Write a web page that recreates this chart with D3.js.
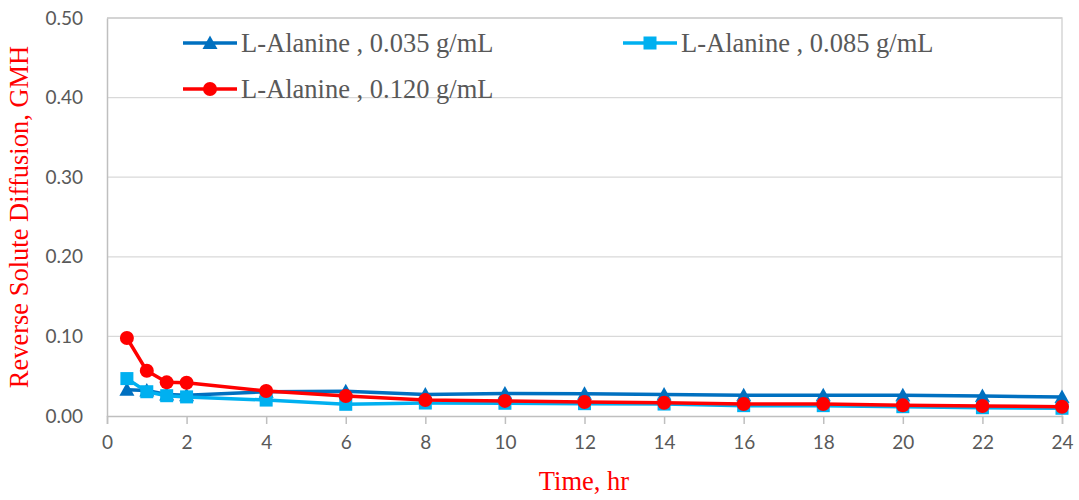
<!DOCTYPE html>
<html>
<head>
<meta charset="utf-8">
<script src="https://cdn.jsdelivr.net/npm/d3@7"></script>
<style>
  html, body { margin: 0; padding: 0; background: #fff; }
  svg { display: block; }
</style>
</head>
<body>
<svg id="chart" width="1079" height="500"></svg>
<script>
// Sampling times (hr)
const times = [0.5, 1, 1.5, 2, 4, 6, 8, 10, 12, 14, 16, 18, 20, 22, 24];

// Reverse solute diffusion (GMH) for each draw concentration
const ala035 = [0.033, 0.032, 0.027, 0.026, 0.0305, 0.031, 0.027, 0.0284, 0.028, 0.027, 0.026, 0.026, 0.026, 0.025, 0.024];
const ala085 = [0.047, 0.0305, 0.0255, 0.024, 0.020, 0.0147, 0.0163, 0.016, 0.0155, 0.015, 0.013, 0.013, 0.0117, 0.0104, 0.0097];
const ala120 = [0.098, 0.0568, 0.0423, 0.0418, 0.0314, 0.025, 0.020, 0.019, 0.0176, 0.0167, 0.015, 0.015, 0.0134, 0.0125, 0.0117];

const seriesNames = ["L-Alanine , 0.035 g/mL", "L-Alanine , 0.085 g/mL", "L-Alanine , 0.120 g/mL"];
const xTicks = [0, 2, 4, 6, 8, 10, 12, 14, 16, 18, 20, 22, 24];
const yTicks = [0, 0.1, 0.2, 0.3, 0.4, 0.5];

const series = [
  { name: seriesNames[0], values: ala035, color: "#0070C0", marker: "triangle" },
  { name: seriesNames[1], values: ala085, color: "#00B0F0", marker: "square" },
  { name: seriesNames[2], values: ala120, color: "#FF0000", marker: "circle" }
];

const svg = d3.select("#chart");
const margin = { left: 107, right: 1079 - 1062, top: 18, bottom: 500 - 416 };
const W = 1079, H = 500;

const x = d3.scaleLinear().domain([0, 24]).range([margin.left, W - margin.right]);
const y = d3.scaleLinear().domain([0, 0.5]).range([H - margin.bottom, margin.top]);

const textGray = "#595959";
const tickFont = "Lato, 'Open Sans', sans-serif";
const serif = "'Liberation Serif', 'Times New Roman', serif";

// Horizontal gridlines
svg.append("g")
  .selectAll("line")
  .data(yTicks.slice(1))
  .join("line")
  .attr("x1", x(0)).attr("x2", x(24))
  .attr("y1", d => y(d)).attr("y2", d => y(d))
  .attr("stroke", "#D9D9D9").attr("stroke-width", 1.3);

// Plot border (top and right)
svg.append("path")
  .attr("d", `M${x(0)},${y(0.5)}H${x(24)}V${y(0)}`)
  .attr("fill", "none").attr("stroke", "#D0D0D0").attr("stroke-width", 1.3);

// X axis
const xAxis = svg.append("g")
  .attr("transform", `translate(0,${y(0)})`)
  .call(d3.axisBottom(x).tickValues(xTicks).tickSize(8).tickPadding(12).tickFormat(d3.format("d")));
xAxis.select(".domain").attr("stroke", "#BFBFBF").attr("stroke-width", 1.5);
xAxis.selectAll(".tick line").attr("stroke", "#BFBFBF").attr("stroke-width", 1.5);
xAxis.selectAll(".tick text").attr("fill", textGray).attr("font-size", 19).attr("font-family", tickFont);

// Y axis
const yAxis = svg.append("g")
  .attr("transform", `translate(${x(0)},0)`)
  .call(d3.axisLeft(y).tickValues(yTicks).tickSize(0).tickPadding(24).tickFormat(d3.format(".2f")));
yAxis.select(".domain").attr("stroke", "#BFBFBF").attr("stroke-width", 1.5);
yAxis.selectAll(".tick text").attr("fill", textGray).attr("font-size", 19).attr("font-family", tickFont);

// Axis titles
svg.append("text")
  .attr("x", 584).attr("y", 490)
  .attr("text-anchor", "middle")
  .attr("font-family", serif).attr("font-size", 26.5).attr("fill", "#FF0000")
  .text("Time, hr");

svg.append("text")
  .attr("transform", `translate(28,${217}) rotate(-90)`)
  .attr("text-anchor", "middle")
  .attr("font-family", serif).attr("font-size", 26.5).attr("fill", "#FF0000")
  .text("Reverse Solute Diffusion, GMH");

// Marker drawing helper
function drawMarker(sel, kind, color) {
  if (kind === "circle") {
    sel.append("circle").attr("r", 7).attr("fill", color);
  } else if (kind === "square") {
    sel.append("rect").attr("x", -6.5).attr("y", -6.5).attr("width", 13).attr("height", 13).attr("fill", color);
  } else {
    sel.append("path").attr("d", "M0,-7.5L7.5,6L-7.5,6Z").attr("fill", color);
  }
}

const line = d3.line().x(d => x(d[0])).y(d => y(d[1]));

series.forEach(s => {
  const pts = times.map((t, i) => [t, s.values[i]]);
  const g = svg.append("g");
  g.append("path")
    .attr("d", line(pts))
    .attr("fill", "none").attr("stroke", s.color).attr("stroke-width", 3.5)
    .attr("stroke-linejoin", "round");
  g.selectAll("g.m")
    .data(pts)
    .join("g").attr("class", "m")
    .attr("transform", d => `translate(${x(d[0])},${y(d[1])})`)
    .each(function () { drawMarker(d3.select(this), s.marker, s.color); });
});

// Legend
const legendPos = [
  { lx: 183, ly: 43 },
  { lx: 623, ly: 43 },
  { lx: 183, ly: 89 }
];
series.forEach((s, i) => {
  const p = legendPos[i];
  const g = svg.append("g").attr("transform", `translate(${p.lx},${p.ly})`);
  g.append("line").attr("x1", 0).attr("x2", 54).attr("y1", 0).attr("y2", 0)
    .attr("stroke", s.color).attr("stroke-width", 3.5);
  drawMarker(g.append("g").attr("transform", "translate(27,0)"), s.marker, s.color);
  g.append("text").attr("x", 58).attr("y", 9)
    .attr("font-family", serif).attr("font-size", 26.5).attr("fill", textGray)
    .text(s.name);
});
</script>
</body>
</html>
